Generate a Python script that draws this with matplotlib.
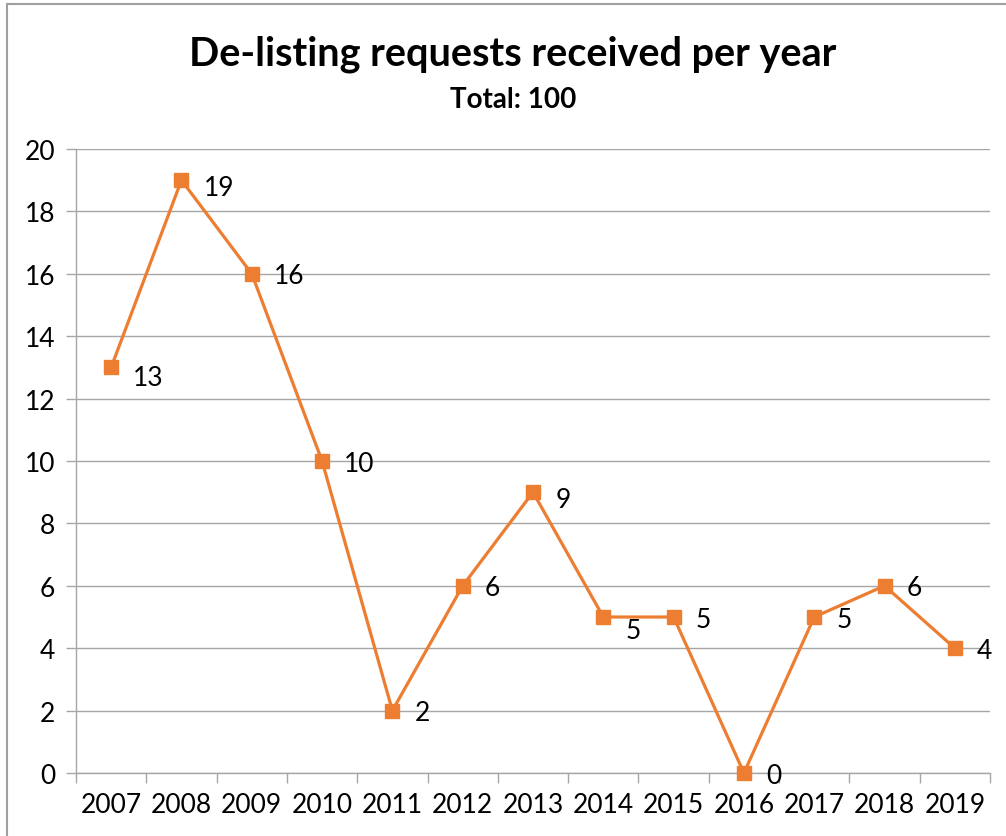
import matplotlib
matplotlib.use("Agg")
import matplotlib.pyplot as plt
from matplotlib.patches import Rectangle

years = ["2007", "2008", "2009", "2010", "2011", "2012", "2013",
         "2014", "2015", "2016", "2017", "2018", "2019"]
requests = [13, 19, 16, 10, 2, 6, 9, 5, 5, 0, 5, 6, 4]
title = "De-listing requests received per year"
subtitle = "Total: 100"

plt.rcParams['font.family'] = ['Lato', 'DejaVu Sans']

fig = plt.figure(figsize=(10.06, 8.37), dpi=100)
W, H = 1006, 837
ax = fig.add_axes([76 / W, 1 - 774 / H, (990 - 76) / W, (774 - 150) / H])

color = "#ED7D31"
grid = "#A6A6A6"
fs = 19
x = list(range(len(years)))
ax.plot(x, requests, color=color, lw=2.3, marker="s", markersize=10,
        markeredgecolor=color, zorder=3, clip_on=False)
# Excel-style "right" labels; a few are nudged down where the line passes
down = {0: 6, 1: 4, 6: 4, 7: 8}
for i, (xi, v) in enumerate(zip(x, requests)):
    ax.annotate(str(v), (xi, v), xytext=(16, -1.5 - down.get(i, 0)),
                textcoords="offset points", ha="left", va="center",
                fontsize=fs, color="black", zorder=4)

ax.set_xlim(-0.5, len(years) - 0.5)
ax.set_ylim(0, 20)
ax.set_yticks(range(0, 21, 2))
ax.set_xticks(x)
ax.set_xticklabels(years)
ax.set_xticks([i - 0.5 for i in range(len(years) + 1)], minor=True)
ax.tick_params(axis="x", which="major", length=0, pad=14, labelsize=fs)
ax.tick_params(axis="x", which="minor", length=7, color=grid, width=1)
ax.tick_params(axis="y", length=7, color=grid, width=1, pad=8, labelsize=fs)
ax.yaxis.grid(True, color=grid, lw=1)
ax.set_axisbelow(True)
for s in ["top", "right"]:
    ax.spines[s].set_visible(False)
for s in ["left", "bottom"]:
    ax.spines[s].set_color(grid)
    ax.spines[s].set_linewidth(1)

fig.text(513 / W, 1 - 54 / H, title, ha="center", va="center",
         fontsize=28.5, fontweight="bold")
fig.text(513 / W, 1 - 100 / H, subtitle, ha="center", va="center",
         fontsize=20, fontweight="bold")

fig.patches.append(Rectangle((7 / W, -0.1), 1.2, 1 - 5 / H + 0.1, transform=fig.transFigure,
                             fill=False, edgecolor="#A0A0A0", lw=1.5))

fig.savefig("out.png", dpi=100)
